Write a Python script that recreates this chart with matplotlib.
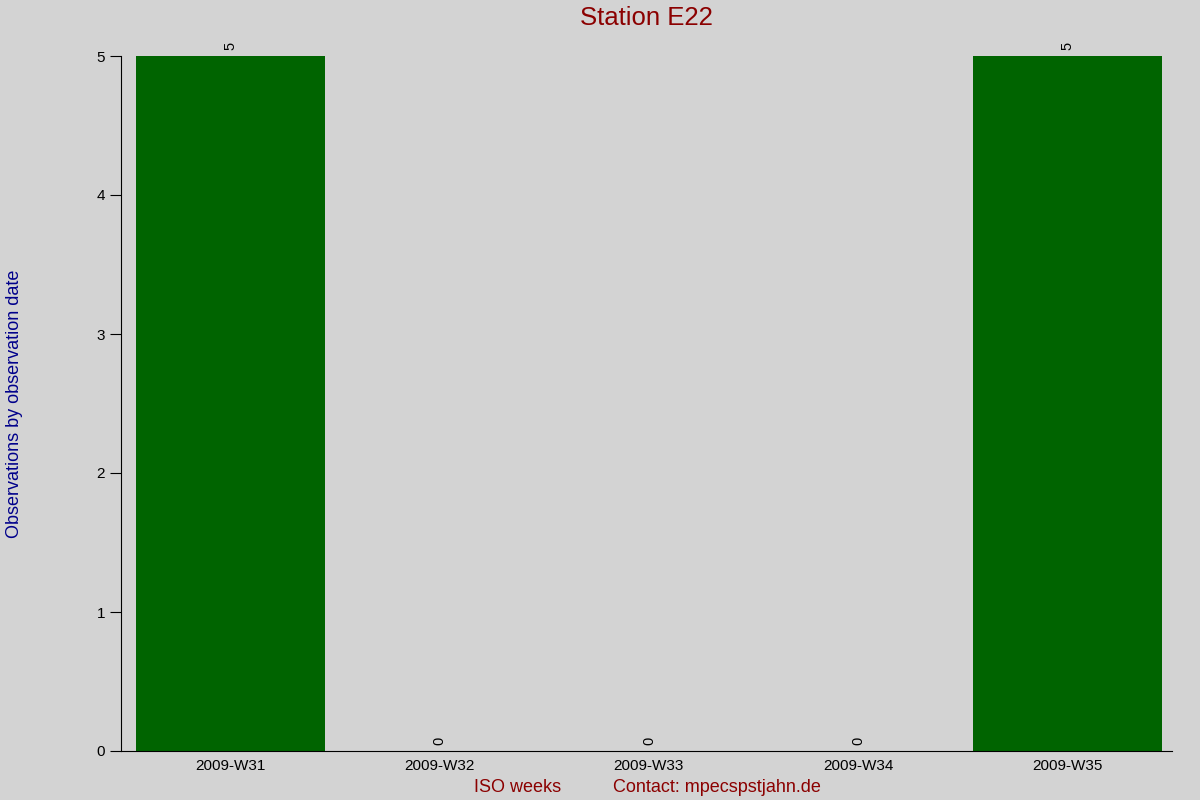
import matplotlib
matplotlib.use('Agg')
import matplotlib.pyplot as plt

plt.rcParams['font.family'] = ['Liberation Sans', 'DejaVu Sans']

# Data
weeks = ['2009-W31', '2009-W32', '2009-W33', '2009-W34', '2009-W35']
counts = [5, 0, 0, 0, 5]

bg = '#d3d3d3'
fig = plt.figure(figsize=(12, 8), dpi=100, facecolor=bg)
ax = fig.add_axes([0.1008, 0.06125, 0.8759, 0.86875], facecolor=bg)

x = list(range(len(weeks)))
bars = ax.bar(x, counts, width=0.9, color='#006400')

# value labels, rotated, sitting on top of each bar
for xi, v in zip(x, counts):
    ax.annotate(str(v), (xi, v), xytext=(0, 4), textcoords='offset points',
                ha='center', va='bottom', rotation=90, fontsize=10.5)

ax.set_xlim(-0.523, 4.5)
ax.set_ylim(0, 5)
ax.set_xticks(x)
ax.set_xticklabels(weeks, fontsize=11)
ax.set_yticks(range(6))
ax.tick_params(axis='y', labelsize=11, length=8, direction='out')
ax.tick_params(axis='x', length=0, pad=6)
ax.spines['top'].set_visible(False)
ax.spines['right'].set_visible(False)

# title placed on the figure so the bar labels don't push it up
fig.text(0.5388, 0.9775, 'Station E22', color='#8b0000', fontsize=18.5, ha='center', va='center')
ax.set_ylabel('Observations by observation date', color='#00008b', fontsize=13)
ax.yaxis.set_label_coords(-0.093, 0.5)

fig.text(0.3951, 0.005, 'ISO weeks', color='#8b0000', fontsize=13, ha='left', va='bottom')
fig.text(0.511, 0.005, 'Contact: mpecspstjahn.de', color='#8b0000', fontsize=13, ha='left', va='bottom')

fig.savefig('out.png', dpi=100, facecolor=bg)
